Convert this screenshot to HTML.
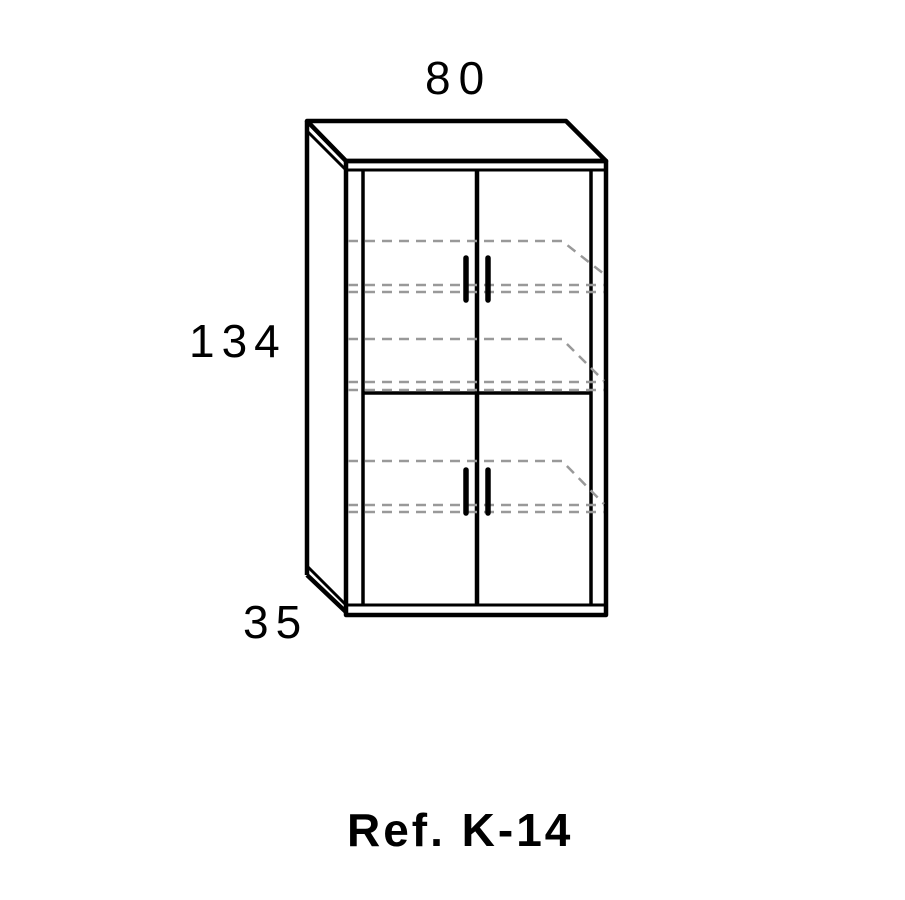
<!DOCTYPE html>
<html><head><style>body{margin:0;background:#fff}svg{display:block}</style></head><body>
<svg width="905" height="900" viewBox="0 0 905 900" xmlns="http://www.w3.org/2000/svg">
<g fill="none" stroke="#000" stroke-width="4.5" stroke-linejoin="round">
<polygon points="307,121 566,121 606,161 346,161"/>
<line x1="307" y1="131" x2="346" y2="170" stroke-width="3"/>
<line x1="307" y1="121" x2="307" y2="575"/>
<line x1="307" y1="575" x2="346" y2="612"/>
<line x1="307" y1="566" x2="346" y2="605" stroke-width="3"/>
<rect x="346" y="161" width="260" height="454"/>
<line x1="346" y1="170" x2="606" y2="170" stroke-width="3"/>
<line x1="346" y1="605" x2="606" y2="605" stroke-width="3"/>
<line x1="363" y1="170" x2="363" y2="605" stroke-width="3.5"/>
<line x1="591" y1="170" x2="591" y2="605" stroke-width="3.5"/>
<line x1="477" y1="170" x2="477" y2="605" stroke-width="4.5"/>
<line x1="363" y1="393" x2="591" y2="393" stroke-width="3.5"/>
</g>
<g fill="none" stroke="#999" stroke-width="2.5" stroke-dasharray="10,7">
<path d="M348,241 H562 L604,274"/><line x1="348" y1="285" x2="604" y2="285"/><line x1="348" y1="292" x2="604" y2="292"/>
<path d="M348,339 H562 L604,381"/><line x1="348" y1="382" x2="604" y2="382"/><line x1="348" y1="390" x2="604" y2="390"/>
<path d="M348,461 H562 L604,504"/><line x1="348" y1="505" x2="604" y2="505"/><line x1="348" y1="512" x2="604" y2="512"/>
</g>
<g stroke="#000" stroke-width="5.5" stroke-linecap="round">
<line x1="466" y1="258" x2="466" y2="300"/><line x1="488" y1="258" x2="488" y2="300"/>
<line x1="466" y1="470" x2="466" y2="513"/><line x1="488" y1="470" x2="488" y2="513"/>
</g>
<g font-family="Liberation Sans, sans-serif" fill="#000">
<text x="425" y="94" font-size="46" letter-spacing="8">80</text>
<text x="189" y="357" font-size="46" letter-spacing="7">134</text>
<text x="243" y="638" font-size="46" letter-spacing="7">35</text>
<text x="347" y="846" font-size="46" font-weight="bold" letter-spacing="3">Ref. K-14</text>
</g>
</svg>
</body></html>
